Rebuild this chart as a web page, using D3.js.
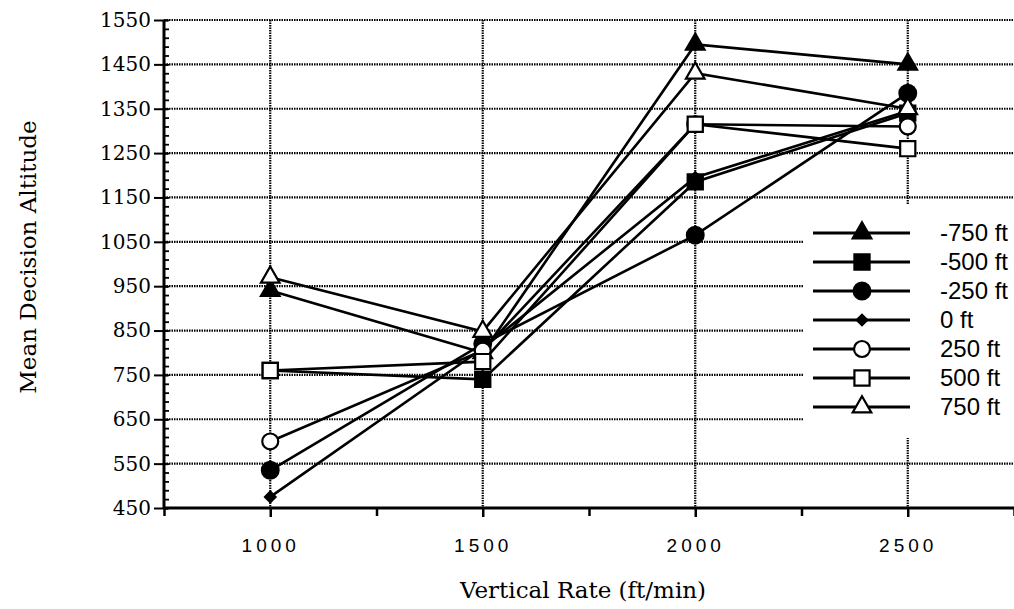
<!DOCTYPE html>
<html>
<head>
<meta charset="utf-8">
<script src="https://cdn.jsdelivr.net/npm/d3@7"></script>
<style>
  body { margin: 0; background: #fff; }
  svg { display: block; }
</style>
</head>
<body>
<script>
(function() {

  // data
  var rates = [1000, 1500, 2000, 2500];
  var seriesNames = ['-750 ft', '-500 ft', '-250 ft', '0 ft', '250 ft', '500 ft', '750 ft'];
  var m750  = [940, 800, 1495, 1450];
  var m500  = [760, 740, 1185, 1340];
  var m250  = [535, 820, 1065, 1385];
  var zero  = [475, 810, 1195, 1345];
  var p250  = [600, 805, 1315, 1310];
  var p500  = [760, 780, 1315, 1260];
  var p750  = [970, 848, 1430, 1350];
  var yTicks = [450, 550, 650, 750, 850, 950, 1050, 1150, 1250, 1350, 1450, 1550];
  var xTicks = [1000, 1500, 2000, 2500];
  var xMinor = [750, 1250, 1750, 2250, 2750];

  var allValues = [m750, m500, m250, zero, p250, p500, p750];
  var markers = [
    {type: d3.symbolTriangle, size: 150, fill: '#000', rot: 0},
    {type: d3.symbolSquare,   size: 230, fill: '#000', rot: 0},
    {type: d3.symbolCircle,   size: 220, fill: '#000', rot: 0},
    {type: d3.symbolSquare,   size: 55,  fill: '#000', rot: 45},
    {type: d3.symbolCircle,   size: 200, fill: '#fff', rot: 0},
    {type: d3.symbolSquare,   size: 230, fill: '#fff', rot: 0},
    {type: d3.symbolTriangle, size: 150, fill: '#fff', rot: 0}
  ];

  var series = seriesNames.map(function(n, i) {
    return {name: n, marker: markers[i], values: allValues[i].map(function(v, j) { return {x: rates[j], y: v}; })};
  });

  var width = 1014, height = 609;

  var svg = d3.select('body').append('svg')
      .attr('width', width)
      .attr('height', height);

  var x = d3.scaleLinear().domain([750, 2750]).range([164, 1014]);
  var y = d3.scaleLinear().domain([450, 1550]).range([508, 20]);

  // grid
  var grid = svg.append('g').attr('stroke', '#000').attr('stroke-width', 2.2).attr('stroke-dasharray', '1.5,1');
  grid.selectAll('.h')
      .data(yTicks.slice(1))
    .enter().append('line')
      .attr('x1', x(750)).attr('x2', x(2750))
      .attr('y1', function(d) { return y(d); })
      .attr('y2', function(d) { return y(d); });
  grid.selectAll('.v')
      .data(xTicks)
    .enter().append('line')
      .attr('x1', function(d) { return x(d); })
      .attr('x2', function(d) { return x(d); })
      .attr('y1', y(1550)).attr('y2', y(450));

  // legend background hides grid behind it
  svg.append('rect')
      .attr('x', 803).attr('y', 205)
      .attr('width', 211).attr('height', 233)
      .attr('fill', '#fff');

  // series lines + markers
  var line = d3.line()
      .x(function(d) { return x(d.x); })
      .y(function(d) { return y(d.y); });

  var sym = function(m) { return d3.symbol().type(m.type).size(m.size)(); };

  var sg = svg.selectAll('.series')
      .data(series)
    .enter().append('g');

  sg.append('path')
      .attr('d', function(d) { return line(d.values); })
      .attr('fill', 'none')
      .attr('stroke', '#000')
      .attr('stroke-width', 2.6);

  sg.each(function(s) {
    d3.select(this).selectAll('path.mk')
        .data(s.values)
      .enter().append('path')
        .attr('class', 'mk')
        .attr('d', sym(s.marker))
        .attr('transform', function(d) { return 'translate(' + x(d.x) + ',' + y(d.y) + ') rotate(' + s.marker.rot + ')'; })
        .attr('fill', s.marker.fill)
        .attr('stroke', '#000')
        .attr('stroke-width', 2.2);
  });

  // y axis
  var yAxis = svg.append('g')
      .attr('transform', 'translate(' + x(750) + ',0)')
      .call(d3.axisLeft(y).tickValues(yTicks).tickSize(12).tickPadding(1).tickFormat(d3.format('d')));
  yAxis.select('.domain').attr('stroke-width', 3).attr('d', 'M0,' + y(450) + 'V' + y(1550));
  yAxis.selectAll('.tick line').attr('stroke-width', 2).attr('x2', -10).attr('x1', 4);
  yAxis.selectAll('text')
      .attr('font-family', '"DejaVu Serif", serif')
      .attr('font-size', 20)
      .attr('fill', '#000');

  var yMinor = d3.range(450, 1551, 20);
  svg.append('g')
      .attr('transform', 'translate(' + x(750) + ',0)')
      .call(d3.axisLeft(y).tickValues(yMinor).tickSize(-5).tickFormat(''))
      .call(function(g) { g.select('.domain').remove(); })
      .selectAll('line').attr('stroke-width', 1.8);

  // x axis
  var xAxis = svg.append('g')
      .attr('transform', 'translate(0,' + y(450) + ')')
      .call(d3.axisBottom(x).tickValues(xTicks).tickSize(9).tickPadding(22).tickFormat(d3.format('d')));
  xAxis.select('.domain').attr('stroke-width', 3).attr('d', 'M' + x(750) + ',0H' + x(2750));
  xAxis.selectAll('.tick line').attr('stroke-width', 2.5);
  xAxis.selectAll('text')
      .attr('font-family', '"Liberation Sans", Arial, sans-serif')
      .attr('font-size', 19)
      .attr('letter-spacing', 4)
      .attr('fill', '#000');

  svg.append('g')
      .attr('transform', 'translate(0,' + y(450) + ')')
      .call(d3.axisBottom(x).tickValues(xMinor).tickSize(8).tickFormat(''))
      .call(function(g) { g.select('.domain').remove(); })
      .selectAll('line').attr('stroke-width', 2.5);

  // axis titles
  svg.append('text')
      .attr('x', 583).attr('y', 598)
      .attr('text-anchor', 'middle')
      .attr('font-family', '"DejaVu Serif", serif')
      .attr('font-size', 23)
      .text('Vertical Rate (ft/min)');

  svg.append('text')
      .attr('transform', 'translate(36,257) rotate(-90)')
      .attr('text-anchor', 'middle')
      .attr('font-family', '"DejaVu Serif", serif')
      .attr('font-size', 23)
      .text('Mean Decision Altitude');

  // legend
  var legend = svg.selectAll('.legend')
      .data(series)
    .enter().append('g')
      .attr('transform', function(d, i) { return 'translate(0,' + (233 + i * 29) + ')'; });

  legend.append('line')
      .attr('x1', 813).attr('x2', 910)
      .attr('stroke', '#000').attr('stroke-width', 2.8);

  legend.append('path')
      .attr('d', function(d) { return sym(d.marker); })
      .attr('transform', function(d) { return 'translate(862,0) rotate(' + d.marker.rot + ')'; })
      .attr('fill', function(d) { return d.marker.fill; })
      .attr('stroke', '#000')
      .attr('stroke-width', 2.2);

  legend.append('text')
      .attr('x', 940).attr('dy', '0.35em')
      .attr('font-family', '"Liberation Sans", Arial, sans-serif')
      .attr('font-size', 24)
      .text(function(d) { return d.name; });

})();
</script>
</body>
</html>
